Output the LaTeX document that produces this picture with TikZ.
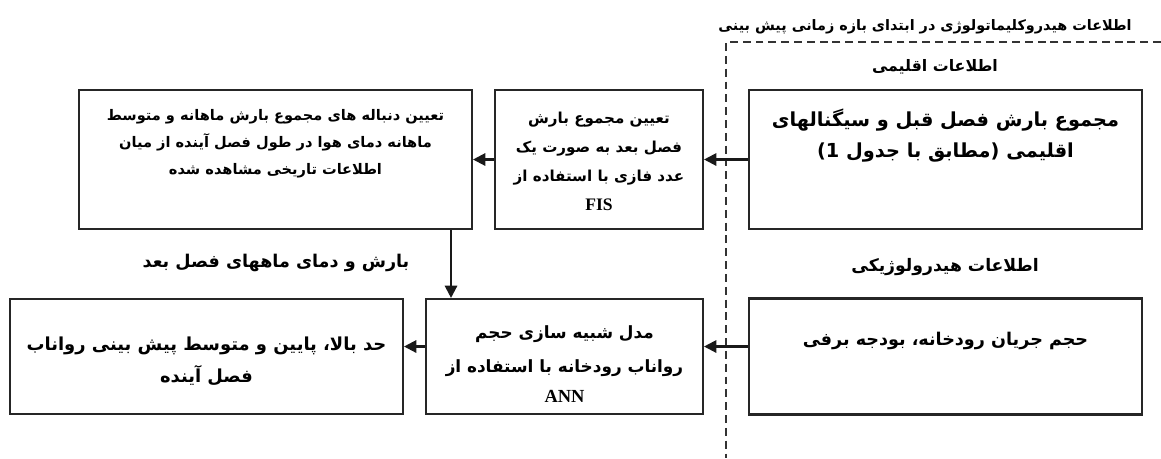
\documentclass[tikz,border=0pt]{standalone}
\usepackage{fontspec}
\usepackage{tikz}
\usetikzlibrary{arrows.meta, positioning, calc}
\TeXXeTstate=1
\newfontfamily\arabicfont[Script=Arabic]{DejaVu Sans}
\newfontfamily\latinfont{Liberation Serif}
\newcommand{\fa}[1]{\beginR#1\endR}

\begin{document}
\begin{tikzpicture}[x=0.02cm, y=-0.02cm, >={Triangle[length=7pt, width=7pt]},
    box/.style={rectangle, draw=black!85, line width=1.2pt, inner sep=0pt},
    boxtxt/.style={align=center, font=\fontsize{10}{17}\selectfont\arabicfont\bfseries},
    lbl/.style={font=\fontsize{10}{12}\selectfont\arabicfont\bfseries},
    arr/.style={->, line width=1.2pt, black!90},
    region/.style={line width=1.1pt, black!80, dash pattern=on 4.5pt off 2.8pt}]

    \useasboundingbox (0,0) rectangle (1161,458);

    %% dashed region of the initial data
    \coordinate (dtr) at (1161,42);
    \coordinate (dtl) at (726,42);
    \coordinate (dbl) at (726,458);
    \draw[region] (dtr) -- (dtl) -- (dbl);
    \node[font=\fontsize{8.2}{10}\selectfont\arabicfont\bfseries] (title) at (925,27)
        {\fa{اطلاعات هیدروکلیماتولوژی در ابتدای بازه زمانی پیش بینی}};

    %% boxes
    \node[box, minimum width=7.86cm, minimum height=2.78cm] (lt) at (275.5,159.5) {};
    \node[box, minimum width=4.16cm, minimum height=2.78cm] (fis) at (599,159.5) {};
    \node[box, minimum width=7.86cm, minimum height=2.78cm] (clim) at (945.5,159.5) {};
    \node[box, minimum width=7.86cm, minimum height=2.30cm] (res) at (206.5,356.5) {};
    \node[box, minimum width=5.54cm, minimum height=2.30cm] (ann) at (564.5,356.5) {};
    \node[box, minimum width=7.86cm, minimum height=2.32cm] (hyd) at (945.5,356.5) {};

    %% box texts
    \node[boxtxt, font=\fontsize{8.3}{15.4}\selectfont\arabicfont\bfseries] (lttxt) at ([yshift=0.31cm]lt.center)
        {\fa{تعیین دنباله های مجموع بارش ماهانه و متوسط}\\
         \fa{ماهانه دمای هوا در طول فصل آینده از میان}\\
         \fa{اطلاعات تاریخی مشاهده شده}};
    \node[boxtxt, font=\fontsize{8.6}{16.5}\selectfont\arabicfont\bfseries] (fistxt) at ([yshift=-0.04cm]fis.center)
        {\fa{تعیین مجموع بارش}\\
         \fa{فصل بعد به صورت یک}\\
         \fa{عدد فازی با استفاده از}\\
         {\latinfont\bfseries\fontsize{10}{12}\selectfont FIS}};
    \node[boxtxt, font=\fontsize{11}{17.6}\selectfont\arabicfont\bfseries] (climtxt) at ([yshift=0.47cm]clim.center)
        {\fa{مجموع بارش فصل قبل و سیگنالهای}\\
         \fa{اقلیمی \mbox{(}مطابق با جدول 1\mbox{)}}};
    \node[boxtxt, font=\fontsize{10.2}{18.2}\selectfont\arabicfont\bfseries] (restxt) at ([yshift=-0.09cm]res.center)
        {\fa{حد بالا، پایین و متوسط پیش بینی رواناب}\\
         \fa{فصل آینده}};
    \node[boxtxt, font=\fontsize{9.6}{19}\selectfont\arabicfont\bfseries] (anntxt) at ([yshift=-0.15cm]ann.center)
        {\fa{مدل شبیه سازی حجم}\\
         \fa{رواناب رودخانه با استفاده از}\\[-2pt]
         {\latinfont\fontsize{10.5}{13}\selectfont ANN}};
    \node[boxtxt] (hydtxt) at ([yshift=0.31cm]hyd.center)
        {\fa{حجم جریان رودخانه، بودجه برفی}};

    %% group labels
    \node[lbl, font=\fontsize{9}{11}\selectfont\arabicfont\bfseries] (climlbl) at (935,67) {\fa{اطلاعات اقلیمی}};
    \node[lbl, font=\fontsize{9.8}{12}\selectfont\arabicfont\bfseries] (hydlbl) at (945,267) {\fa{اطلاعات هیدرولوژیکی}};
    \node[lbl] (flowlbl) at (276,263) {\fa{بارش و دمای ماههای فصل بعد}};

    %% connectors
    \draw[arr] (clim.west) -- (fis.east);
    \draw[arr] (fis.west) -- (lt.east);
    \draw[arr] ([xshift=-0.44cm]lt.south east) -- ([xshift=-0.44cm]lt.south east |- ann.north);
    \draw[arr] ([yshift=0.2cm]hyd.west) -- ([yshift=0.2cm]ann.east);
    \draw[arr] ([yshift=0.2cm]ann.west) -- ([yshift=0.2cm]res.east);

\end{tikzpicture}
\end{document}
